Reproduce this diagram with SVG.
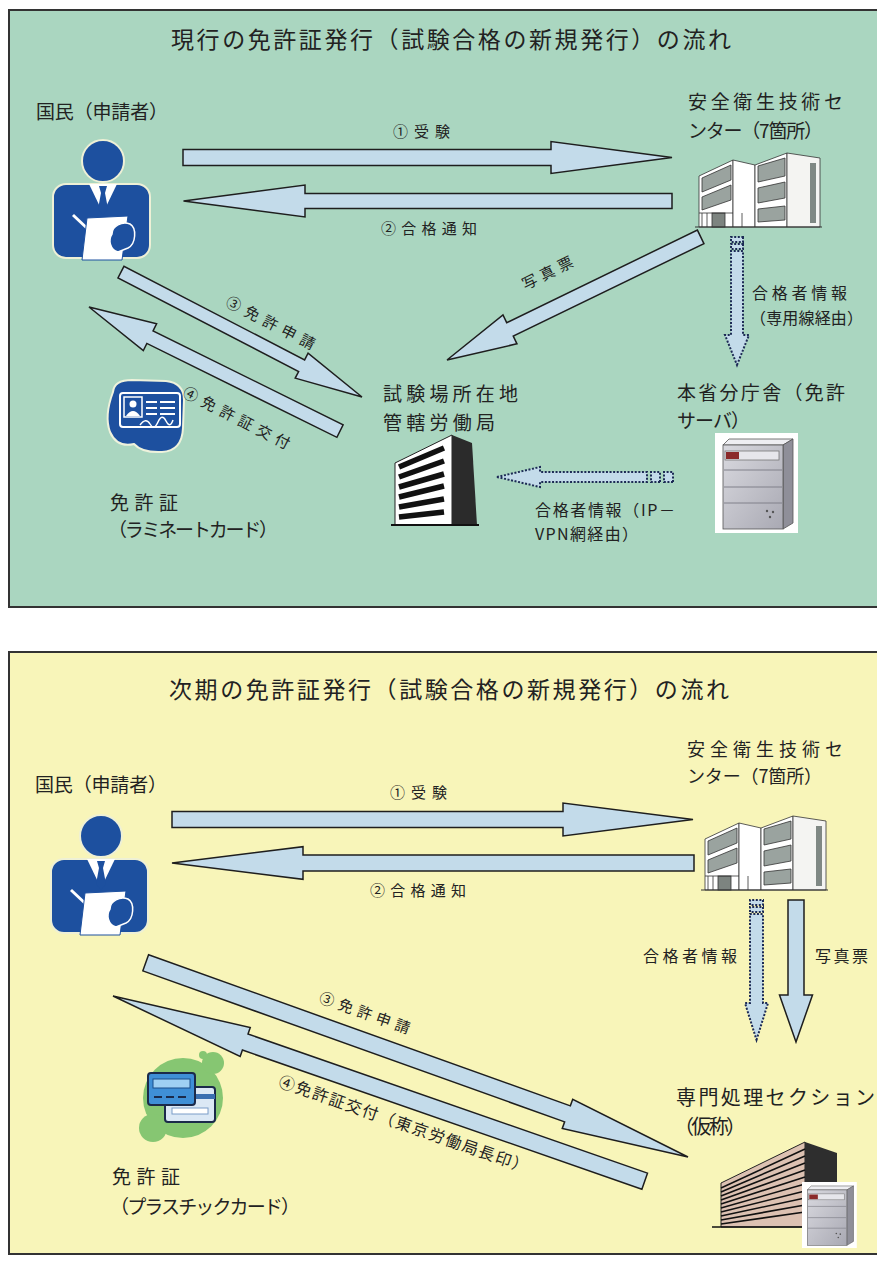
<svg xmlns="http://www.w3.org/2000/svg" xmlns:xlink="http://www.w3.org/1999/xlink" width="877" height="1263" viewBox="0 0 877 1263">
  <style>
    .t { font-family: "Noto Sans CJK JP", "Noto Sans", sans-serif; fill: #222; dominant-baseline: central; }
    .arr { fill: #c3dbea; stroke: #1e1e1e; stroke-width: 1.5; stroke-linejoin: miter; }
    .dot { fill: #c3dbea; stroke: #1d2b55; stroke-width: 2; stroke-dasharray: 2 1.6; }
    .navy { fill: #1d509f; }
    .edge { stroke: #333; stroke-width: 0.8; }
  </style>
  <defs>
    <linearGradient id="srvFront" x1="0" y1="0" x2="1" y2="1">
      <stop offset="0" stop-color="#d9d9df"/>
      <stop offset="1" stop-color="#a9a9b3"/>
    </linearGradient>

    <!-- applicant pictogram -->
    <g id="person">
      <circle cx="103" cy="161" r="21" class="navy" stroke="#eef0d6" stroke-width="2"/>
      <rect x="53" y="184" width="97" height="74" rx="13" class="navy" stroke="#eef0d6" stroke-width="2"/>
      <polygon points="89,184 117,184 103,213" fill="#fff"/>
      <polygon points="99,186 107,186 105,193 108,209 103,215 98,209 101,193" class="navy"/>
      <line x1="73" y1="215" x2="90" y2="231" stroke="#fff" stroke-width="3"/>
      <polygon points="87,218 128,216 122,260 82,260" fill="#fff" stroke="#1d509f" stroke-width="1"/>
      <path d="M112 234 C112 226 122 221 130 224 C137 228 136 244 128 248 L118 252 C110 250 108 240 112 234 Z" class="navy" stroke="#fff" stroke-width="1.5"/>
    </g>

    <!-- low-rise centre building, local origin at its top-left -->
    <g id="centreBuilding">
      <polygon points="1,24 35,8 35,75 1,75" fill="#fff" class="edge"/>
      <polygon points="4,26 33,13 33,28 4,40" fill="#9aa39f" class="edge"/>
      <polygon points="4,45 33,33 33,48 4,58" fill="#9aa39f" class="edge"/>
      <rect x="14" y="61" width="13" height="14" fill="#7d8480" class="edge"/>
      <line x1="4" y1="61" x2="4" y2="75" class="edge"/>
      <line x1="9" y1="61" x2="9" y2="75" class="edge"/>
      <line x1="1" y1="61" x2="35" y2="61" class="edge"/>
      <polygon points="35,8 57,13 57,75 35,75" fill="#fff" class="edge"/>
      <line x1="44" y1="61" x2="44" y2="75" class="edge"/>
      <polygon points="57,13 89,1 89,75 57,75" fill="#fff" class="edge"/>
      <polygon points="60,14 87,6 87,24 60,30" fill="#9aa39f" class="edge"/>
      <polygon points="60,36 87,30 87,46 60,51" fill="#9aa39f" class="edge"/>
      <polygon points="60,57 87,54 87,68 60,70" fill="#9aa39f" class="edge"/>
      <polygon points="89,1 122,6 122,75 89,75" fill="#f4f4f2" class="edge"/>
      <rect x="112" y="11" width="6" height="60" fill="#7f8884"/>
      <line x1="-3" y1="75" x2="124" y2="75" stroke="#333" stroke-width="1.2"/>
    </g>

    <!-- server cabinet, local box 83 x 100 -->
    <g id="server">
      <rect x="0" y="0" width="83" height="100" fill="#fff"/>
      <polygon points="8,12 14,6 78,6 68,12" fill="#eeeef2" stroke="#555" stroke-width="0.8"/>
      <polygon points="68,12 78,6 78,90 68,96" fill="#8f8f99" stroke="#555" stroke-width="0.8"/>
      <rect x="8" y="12" width="60" height="84" fill="url(#srvFront)" stroke="#555" stroke-width="0.8"/>
      <rect x="10" y="18" width="54" height="9" fill="#e6e6eb" stroke="#777" stroke-width="0.8"/>
      <rect x="11" y="19" width="13" height="7" fill="#8b2a2a"/>
      <line x1="9" y1="37" x2="67" y2="37" stroke="#80808a" stroke-width="1"/>
      <line x1="9" y1="54" x2="67" y2="54" stroke="#80808a" stroke-width="1"/>
      <line x1="9" y1="70" x2="67" y2="70" stroke="#80808a" stroke-width="1"/>
      <circle cx="52" cy="78" r="1.2" fill="#555"/>
      <circle cx="55" cy="84" r="1.2" fill="#555"/>
      <circle cx="58" cy="79" r="1.2" fill="#555"/>
    </g>
  </defs>

  <rect x="0" y="0" width="877" height="1263" fill="#fff"/>

  <!-- ===== current flow ===== -->
  <g id="panel-current">
    <rect x="9" y="10" width="870" height="597" fill="#aad6c0" stroke="#333" stroke-width="2"/>
    <text class="t" x="171" y="38" font-size="23" textLength="560">現行の免許証発行（試験合格の新規発行）の流れ</text>
  </g>

  <g id="cur-applicant">
    <text class="t" x="36" y="110" font-size="19" textLength="132">国民（申請者）</text>
    <use href="#person"/>
  </g>

  <g id="cur-centre">
    <text class="t" x="688" y="100.5" font-size="19" textLength="155">安全衛生技術セ</text>
    <text class="t" x="688" y="129" font-size="19" textLength="135">ンター（7箇所）</text>
    <use href="#centreBuilding" transform="translate(698,152)"/>
  </g>

  <g id="cur-bureau">
    <text class="t" x="383" y="392" font-size="19" textLength="135">試験場所在地</text>
    <text class="t" x="383" y="421" font-size="19" textLength="112">管轄労働局</text>
    <polygon points="395,463 452,435 452,525 395,525" fill="#fff" stroke="#222" stroke-width="1"/>
    <polygon points="452,435 472,443 477,525 452,525" fill="#2b2b2b"/>
    <g stroke="#111" stroke-width="5.5">
      <line x1="399" y1="467" x2="444" y2="448"/>
      <line x1="399" y1="477" x2="444" y2="461"/>
      <line x1="399" y1="487" x2="444" y2="474"/>
      <line x1="399" y1="497" x2="444" y2="486"/>
      <line x1="399" y1="507" x2="444" y2="499"/>
      <line x1="399" y1="517" x2="444" y2="512"/>
    </g>
    <line x1="391" y1="525" x2="479" y2="525" stroke="#111" stroke-width="2"/>
  </g>

  <g id="cur-server">
    <text class="t" x="677" y="391" font-size="19" textLength="168">本省分庁舎（免許</text>
    <text class="t" x="677" y="419" font-size="19" textLength="73">サーバ）</text>
    <use href="#server" transform="translate(715,433)"/>
  </g>

  <g id="cur-card">
    <path d="M113 392 Q114 380 132 380 L166 381 Q184 383 184 400 L183 428 Q182 451 162 452 Q142 453 134 444 Q117 448 110 432 Q104 416 113 392 Z" class="navy" stroke="#eef2dc" stroke-width="2"/>
    <rect x="120" y="393" width="60" height="34" rx="3" class="navy" stroke="#fff" stroke-width="2"/>
    <rect x="124" y="397" width="18" height="20" class="navy" stroke="#fff" stroke-width="1.5"/>
    <circle cx="133" cy="404" r="3.5" fill="#fff"/>
    <path d="M126 416 Q133 406 140 416 Z" fill="#fff"/>
    <g stroke="#fff" stroke-width="2">
      <line x1="146" y1="402" x2="157" y2="402"/><line x1="160" y1="402" x2="175" y2="402"/>
      <line x1="146" y1="408" x2="157" y2="408"/><line x1="160" y1="408" x2="175" y2="408"/>
      <line x1="146" y1="414" x2="157" y2="414"/><line x1="160" y1="414" x2="175" y2="414"/>
    </g>
    <path d="M140 425 Q146 417 150 424 T158 422 T166 421 T173 420" fill="none" stroke="#fff" stroke-width="1.5"/>
    <text class="t" x="110" y="501" font-size="19" textLength="68">免許証</text>
    <text class="t" x="108" y="528" font-size="19" textLength="170">（ラミネートカード）</text>
  </g>

  <g id="cur-connectors">
    <polygon class="arr" transform="translate(672,157.5)" points="0,0 -121,-16 -121,-8 -489,-8 -489,8 -121,8 -121,16"/>
    <text class="t" x="393" y="130" font-size="15" textLength="57">①受験</text>
    <polygon class="arr" transform="translate(183.5,201) rotate(180)" points="0,0 -121.5,-16 -121.5,-7.5 -488.5,-7.5 -488.5,7.5 -121.5,7.5 -121.5,16"/>
    <text class="t" x="381" y="227" font-size="15" textLength="96">②合格通知</text>

    <polygon class="arr" transform="translate(447,360) rotate(154.1)" points="0,0 -70,-16 -70,-7.5 -282,-7.5 -282,7.5 -70,7.5 -70,16"/>
    <text class="t" text-anchor="middle" transform="translate(547,272) rotate(-26)" font-size="15" textLength="55">写真票</text>

    <polygon class="arr" transform="translate(362,397) rotate(27.4)" points="0,0 -68,-14 -68,-6.5 -271.5,-6.5 -271.5,6.5 -68,6.5 -68,14"/>
    <text class="t" text-anchor="middle" transform="translate(271,322) rotate(27)" font-size="15" textLength="98">③免許申請</text>
    <polygon class="arr" transform="translate(89,307) rotate(206.3)" points="0,0 -68,-15 -68,-7 -280,-7 -280,7 -68,7 -68,15"/>
    <text class="t" text-anchor="middle" transform="translate(237,417) rotate(27)" font-size="15" textLength="118">④免許証交付</text>

    <g class="dot" transform="translate(737,365) rotate(90)">
      <polygon points="0,0 -30,-12 -30,-6 -114,-6 -114,6 -30,6 -30,12"/>
      <rect x="-128" y="-6" width="5" height="12"/>
      <rect x="-121" y="-6" width="5" height="12"/>
    </g>
    <text class="t" x="752" y="292" font-size="16" textLength="95">合格者情報</text>
    <text class="t" x="750" y="317" font-size="16" textLength="113">（専用線経由）</text>

    <g class="dot" transform="translate(497,477) rotate(180)">
      <polygon points="0,0 -43,-10 -43,-5 -150,-5 -150,5 -43,5 -43,10"/>
      <rect x="-163" y="-5" width="9" height="10"/>
      <rect x="-176" y="-5" width="9" height="10"/>
    </g>
    <text class="t" x="535" y="509" font-size="16" textLength="140">合格者情報（IP－</text>
    <text class="t" x="535" y="533" font-size="16" textLength="103">VPN網経由）</text>
  </g>

  <!-- ===== next-term flow ===== -->
  <g id="panel-next">
    <rect x="9" y="652" width="870" height="602" fill="#f8f5b9" stroke="#333" stroke-width="2"/>
    <text class="t" x="169" y="688" font-size="23" textLength="560">次期の免許証発行（試験合格の新規発行）の流れ</text>
  </g>

  <g id="next-applicant">
    <text class="t" x="35" y="783" font-size="19" textLength="132">国民（申請者）</text>
    <use href="#person" transform="translate(-2,675)"/>
  </g>

  <g id="next-centre">
    <text class="t" x="687" y="748" font-size="18" textLength="156">安全衛生技術セ</text>
    <text class="t" x="687" y="775" font-size="18" textLength="135">ンター（7箇所）</text>
    <use href="#centreBuilding" transform="translate(704,815)"/>
  </g>

  <g id="next-section">
    <text class="t" x="676" y="1096" font-size="20" textLength="199">専門処理セクション</text>
    <text class="t" x="674" y="1125" font-size="20" textLength="72">（仮称）</text>
    <polygon points="721,1183 805,1142 805,1227 721,1227" fill="#dcc1b2" stroke="#222" stroke-width="1"/>
    <polygon points="805,1142 837,1153 837,1205 805,1227" fill="#2e2e2e"/>
    <g stroke="#111" stroke-width="1.6">
      <line x1="721" y1="1188" x2="805" y2="1149"/>
      <line x1="721" y1="1192" x2="805" y2="1156"/>
      <line x1="721" y1="1196" x2="805" y2="1163"/>
      <line x1="721" y1="1200" x2="805" y2="1170"/>
      <line x1="721" y1="1204" x2="805" y2="1177"/>
      <line x1="721" y1="1208" x2="805" y2="1184"/>
      <line x1="721" y1="1212" x2="805" y2="1191"/>
      <line x1="721" y1="1216" x2="805" y2="1198"/>
      <line x1="721" y1="1220" x2="805" y2="1205"/>
      <line x1="721" y1="1224" x2="805" y2="1212"/>
    </g>
    <line x1="712" y1="1227" x2="812" y2="1227" stroke="#111" stroke-width="1.5"/>
    <use href="#server" transform="translate(802,1182) scale(0.66)"/>
  </g>

  <g id="next-card">
    <circle cx="183" cy="1098" r="40" fill="#86c672"/>
    <circle cx="213" cy="1063" r="11" fill="#86c672"/>
    <circle cx="203" cy="1055" r="4" fill="#86c672"/>
    <circle cx="153" cy="1128" r="14" fill="#86c672"/>
    <rect x="165" y="1087" width="50" height="35" rx="3" fill="#dbe8f5" stroke="#1b2a4a" stroke-width="2"/>
    <rect x="165" y="1094" width="50" height="5" fill="#3a6fb0"/>
    <rect x="172" y="1108" width="36" height="6" fill="#fff" stroke="#7a9cc8" stroke-width="1"/>
    <rect x="148" y="1073" width="47" height="32" rx="3" fill="#3f8fd6" stroke="#1b2a4a" stroke-width="2"/>
    <rect x="153" y="1079" width="37" height="9" fill="#9fd0f3" stroke="#1b4f8a" stroke-width="1"/>
    <g stroke="#1b2a4a" stroke-width="2">
      <line x1="154" y1="1097" x2="162" y2="1097"/>
      <line x1="166" y1="1097" x2="174" y2="1097"/>
      <line x1="178" y1="1097" x2="186" y2="1097"/>
    </g>
    <text class="t" x="112" y="1175" font-size="19" textLength="68">免許証</text>
    <text class="t" x="110" y="1205" font-size="19" textLength="190">（プラスチックカード）</text>
  </g>

  <g id="next-connectors">
    <polygon class="arr" transform="translate(693,819.5)" points="0,0 -130,-16.5 -130,-8 -521,-8 -521,8 -130,8 -130,16.5"/>
    <text class="t" x="390" y="791" font-size="15" textLength="57">①受験</text>
    <polygon class="arr" transform="translate(172,863) rotate(180)" points="0,0 -131,-16.3 -131,-8 -522,-8 -522,8 -131,8 -131,16.3"/>
    <text class="t" x="370" y="889" font-size="15" textLength="96">②合格通知</text>

    <g class="dot" transform="translate(756.5,1040) rotate(90)">
      <polygon points="0,0 -37,-11.5 -37,-6.5 -126,-6.5 -126,6.5 -37,6.5 -37,11.5"/>
      <rect x="-133" y="-6.5" width="5" height="13"/>
      <rect x="-140" y="-6.5" width="5" height="13"/>
    </g>
    <text class="t" x="643" y="955" font-size="16" textLength="94">合格者情報</text>
    <polygon class="arr" transform="translate(796,1042) rotate(90)" points="0,0 -47,-16.5 -47,-8 -142,-8 -142,8 -47,8 -47,16.5"/>
    <text class="t" x="815" y="955" font-size="16" textLength="53">写真票</text>

    <polygon class="arr" transform="translate(688,1157) rotate(19.7)" points="0,0 -128,-15.5 -128,-8.5 -576,-8.5 -576,8.5 -128,8.5 -128,15.5"/>
    <text class="t" text-anchor="middle" transform="translate(365,1012) rotate(19.7)" font-size="15" textLength="95">③免許申請</text>
    <polygon class="arr" transform="translate(113,996) rotate(199.2)" points="0,0 -140,-15.3 -140,-8.5 -563,-8.5 -563,8.5 -140,8.5 -140,15.3"/>
    <text class="t" text-anchor="middle" transform="translate(404,1123) rotate(19.3)" font-size="16" textLength="263">④免許証交付（東京労働局長印）</text>
  </g>
</svg>
